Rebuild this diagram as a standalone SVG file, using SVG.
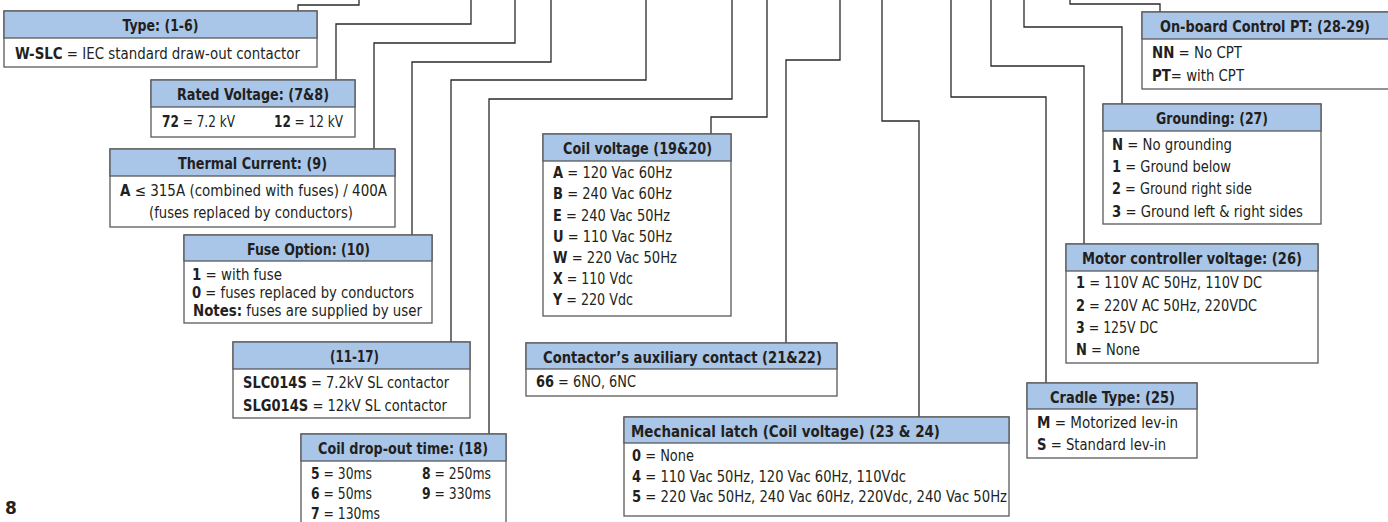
<svg xmlns="http://www.w3.org/2000/svg" width="1388" height="522" viewBox="0 0 1388 522">
<style>
.box{fill:#fff;stroke:#5a5a5a;stroke-width:1.3}
.hd{fill:#a9c6e8;stroke:#5a5a5a;stroke-width:1.3}
.ht{font-family:"DejaVu Sans Condensed","Liberation Sans",sans-serif;font-weight:bold;font-size:16.5px;fill:#231f20;text-anchor:middle}
.tx{font-family:"DejaVu Sans Condensed","Liberation Sans",sans-serif;font-size:15px;fill:#231f20}
.k{font-weight:bold}
.c{text-anchor:middle}
.ln{fill:none;stroke:#2a2a2a;stroke-width:1.3}
</style>
<rect x="0" y="0" width="1388" height="522" fill="#fff"/>
<g id="connectors">
<path class="ln" d="M298,11 V5 H359 V0"/>
<path class="ln" d="M336,80 V24 H471 V0"/>
<path class="ln" d="M374,149 V43 H515 V0"/>
<path class="ln" d="M412,235 V62 H551 V0"/>
<path class="ln" d="M451,342 V80 H646 V0"/>
<path class="ln" d="M489,434 V99 H732 V0"/>
<path class="ln" d="M711,134 V117 H767 V0"/>
<path class="ln" d="M786,343 V60 H840 V0"/>
<path class="ln" d="M919,417 V121 H882 V0"/>
<path class="ln" d="M1046,383 V97 H951 V0"/>
<path class="ln" d="M1084,244 V66 H991 V0"/>
<path class="ln" d="M1122,104 V27 H1024 V0"/>
<path class="ln" d="M1160,12 V4 H1070 V0"/>
</g>
<g id="type">
<rect class="box" x="4" y="11" width="313" height="56"/>
<rect class="hd" x="4" y="11" width="313" height="27"/>
<text class="ht" x="160.5" y="31" textLength="76" lengthAdjust="spacingAndGlyphs">Type: (1-6)</text>
<text class="tx" x="15" y="59" textLength="285" lengthAdjust="spacingAndGlyphs"><tspan class="k">W-SLC</tspan> = IEC standard draw-out contactor</text>
</g>
<g id="rated-voltage">
<rect class="box" x="151" y="80" width="204" height="57"/>
<rect class="hd" x="151" y="80" width="204" height="27"/>
<text class="ht" x="253" y="100" textLength="152" lengthAdjust="spacingAndGlyphs">Rated Voltage: (7&amp;8)</text>
<text class="tx" x="162" y="127" textLength="73" lengthAdjust="spacingAndGlyphs"><tspan class="k">72</tspan> = 7.2 kV</text>
<text class="tx" x="274" y="127" textLength="69" lengthAdjust="spacingAndGlyphs"><tspan class="k">12</tspan> = 12 kV</text>
</g>
<g id="thermal-current">
<rect class="box" x="110" y="149" width="285" height="78"/>
<rect class="hd" x="110" y="149" width="285" height="27"/>
<text class="ht" x="252.5" y="169" textLength="149" lengthAdjust="spacingAndGlyphs">Thermal Current: (9)</text>
<text class="tx c" x="253.5" y="196" textLength="267" lengthAdjust="spacingAndGlyphs"><tspan class="k">A</tspan> ≤ 315A (combined with fuses) / 400A</text>
<text class="tx c" x="251" y="218" textLength="204" lengthAdjust="spacingAndGlyphs">(fuses replaced by conductors)</text>
</g>
<g id="fuse-option">
<rect class="box" x="184" y="235" width="248" height="88"/>
<rect class="hd" x="184" y="235" width="248" height="26"/>
<text class="ht" x="308.5" y="255" textLength="123" lengthAdjust="spacingAndGlyphs">Fuse Option: (10)</text>
<text class="tx" x="192" y="280" textLength="90" lengthAdjust="spacingAndGlyphs"><tspan class="k">1</tspan> = with fuse</text>
<text class="tx" x="192" y="298" textLength="222" lengthAdjust="spacingAndGlyphs"><tspan class="k">0</tspan> = fuses replaced by conductors</text>
<text class="tx" x="193" y="316" textLength="229" lengthAdjust="spacingAndGlyphs"><tspan class="k">Notes:</tspan> fuses are supplied by user</text>
</g>
<g id="code-11-17">
<rect class="box" x="233" y="342" width="237" height="76"/>
<rect class="hd" x="233" y="342" width="237" height="27"/>
<text class="ht" x="354.5" y="362" textLength="49" lengthAdjust="spacingAndGlyphs">(11-17)</text>
<text class="tx" x="243" y="388" textLength="206" lengthAdjust="spacingAndGlyphs"><tspan class="k">SLC014S</tspan> = 7.2kV SL contactor</text>
<text class="tx" x="243" y="411" textLength="204" lengthAdjust="spacingAndGlyphs"><tspan class="k">SLG014S</tspan> = 12kV SL contactor</text>
</g>
<g id="coil-dropout">
<rect class="box" x="301" y="434" width="205" height="100"/>
<rect class="hd" x="301" y="434" width="205" height="27"/>
<text class="ht" x="403" y="454" textLength="170" lengthAdjust="spacingAndGlyphs">Coil drop-out time: (18)</text>
<text class="tx" x="311" y="479" textLength="61" lengthAdjust="spacingAndGlyphs"><tspan class="k">5</tspan> = 30ms</text>
<text class="tx" x="311" y="499" textLength="61" lengthAdjust="spacingAndGlyphs"><tspan class="k">6</tspan> = 50ms</text>
<text class="tx" x="311" y="519" textLength="69" lengthAdjust="spacingAndGlyphs"><tspan class="k">7</tspan> = 130ms</text>
<text class="tx" x="422" y="479" textLength="69" lengthAdjust="spacingAndGlyphs"><tspan class="k">8</tspan> = 250ms</text>
<text class="tx" x="422" y="499" textLength="69" lengthAdjust="spacingAndGlyphs"><tspan class="k">9</tspan> = 330ms</text>
</g>
<g id="coil-voltage">
<rect class="box" x="543" y="134" width="188" height="182"/>
<rect class="hd" x="543" y="134" width="188" height="27"/>
<text class="ht" x="637.5" y="154" textLength="149" lengthAdjust="spacingAndGlyphs">Coil voltage (19&amp;20)</text>
<text class="tx" x="553" y="178" textLength="119" lengthAdjust="spacingAndGlyphs"><tspan class="k">A</tspan> = 120 Vac 60Hz</text>
<text class="tx" x="553" y="199" textLength="119" lengthAdjust="spacingAndGlyphs"><tspan class="k">B</tspan> = 240 Vac 60Hz</text>
<text class="tx" x="553" y="221" textLength="117" lengthAdjust="spacingAndGlyphs"><tspan class="k">E</tspan> = 240 Vac 50Hz</text>
<text class="tx" x="553" y="242" textLength="119" lengthAdjust="spacingAndGlyphs"><tspan class="k">U</tspan> = 110 Vac 50Hz</text>
<text class="tx" x="553" y="263" textLength="124" lengthAdjust="spacingAndGlyphs"><tspan class="k">W</tspan> = 220 Vac 50Hz</text>
<text class="tx" x="553" y="284" textLength="80" lengthAdjust="spacingAndGlyphs"><tspan class="k">X</tspan> = 110 Vdc</text>
<text class="tx" x="553" y="305" textLength="80" lengthAdjust="spacingAndGlyphs"><tspan class="k">Y</tspan> = 220 Vdc</text>
</g>
<g id="aux-contact">
<rect class="box" x="526" y="343" width="311" height="53"/>
<rect class="hd" x="526" y="343" width="311" height="26"/>
<text class="ht" x="682.5" y="363" textLength="279" lengthAdjust="spacingAndGlyphs">Contactor’s auxiliary contact (21&amp;22)</text>
<text class="tx" x="536" y="387" textLength="100" lengthAdjust="spacingAndGlyphs"><tspan class="k">66</tspan> = 6NO, 6NC</text>
</g>
<g id="mech-latch">
<rect class="box" x="624" y="417" width="385" height="99"/>
<rect class="hd" x="624" y="417" width="385" height="26"/>
<text class="ht" x="631" y="437" style="text-anchor:start" textLength="309" lengthAdjust="spacingAndGlyphs">Mechanical latch (Coil voltage) (23 &amp; 24)</text>
<text class="tx" x="632" y="461" textLength="62" lengthAdjust="spacingAndGlyphs"><tspan class="k">0</tspan> = None</text>
<text class="tx" x="632" y="482" textLength="274" lengthAdjust="spacingAndGlyphs"><tspan class="k">4</tspan> = 110 Vac 50Hz, 120 Vac 60Hz, 110Vdc</text>
<text class="tx" x="632" y="502" textLength="375" lengthAdjust="spacingAndGlyphs"><tspan class="k">5</tspan> = 220 Vac 50Hz, 240 Vac 60Hz, 220Vdc, 240 Vac 50Hz</text>
</g>
<g id="cradle-type">
<rect class="box" x="1027" y="383" width="170" height="75"/>
<rect class="hd" x="1027" y="383" width="170" height="26"/>
<text class="ht" x="1112.5" y="403" textLength="125" lengthAdjust="spacingAndGlyphs">Cradle Type: (25)</text>
<text class="tx" x="1037" y="428" textLength="141" lengthAdjust="spacingAndGlyphs"><tspan class="k">M</tspan> = Motorized lev-in</text>
<text class="tx" x="1037" y="450" textLength="129" lengthAdjust="spacingAndGlyphs"><tspan class="k">S</tspan> = Standard lev-in</text>
</g>
<g id="motor-voltage">
<rect class="box" x="1066" y="244" width="252" height="119"/>
<rect class="hd" x="1066" y="244" width="252" height="27"/>
<text class="ht" x="1192" y="264" textLength="220" lengthAdjust="spacingAndGlyphs">Motor controller voltage: (26)</text>
<text class="tx" x="1076" y="288" textLength="186" lengthAdjust="spacingAndGlyphs"><tspan class="k">1</tspan> = 110V AC 50Hz, 110V DC</text>
<text class="tx" x="1076" y="311" textLength="181" lengthAdjust="spacingAndGlyphs"><tspan class="k">2</tspan> = 220V AC 50Hz, 220VDC</text>
<text class="tx" x="1076" y="333" textLength="82" lengthAdjust="spacingAndGlyphs"><tspan class="k">3</tspan> = 125V DC</text>
<text class="tx" x="1076" y="355" textLength="64" lengthAdjust="spacingAndGlyphs"><tspan class="k">N</tspan> = None</text>
</g>
<g id="grounding">
<rect class="box" x="1103" y="104" width="218" height="120"/>
<rect class="hd" x="1103" y="104" width="218" height="27"/>
<text class="ht" x="1212" y="124" textLength="112" lengthAdjust="spacingAndGlyphs">Grounding: (27)</text>
<text class="tx" x="1112" y="150" textLength="120" lengthAdjust="spacingAndGlyphs"><tspan class="k">N</tspan> = No grounding</text>
<text class="tx" x="1112" y="172" textLength="119" lengthAdjust="spacingAndGlyphs"><tspan class="k">1</tspan> = Ground below</text>
<text class="tx" x="1112" y="194" textLength="140" lengthAdjust="spacingAndGlyphs"><tspan class="k">2</tspan> = Ground right side</text>
<text class="tx" x="1112" y="217" textLength="191" lengthAdjust="spacingAndGlyphs"><tspan class="k">3</tspan> = Ground left &amp; right sides</text>
</g>
<g id="onboard-cpt">
<rect class="box" x="1142" y="12" width="260" height="77"/>
<rect class="hd" x="1142" y="12" width="260" height="27"/>
<text class="ht" x="1160" y="32" style="text-anchor:start;font-size:15px" textLength="210" lengthAdjust="spacingAndGlyphs">On-board Control PT: (28-29)</text>
<text class="tx" x="1152" y="58" textLength="90" lengthAdjust="spacingAndGlyphs"><tspan class="k">NN</tspan> = No CPT</text>
<text class="tx" x="1152" y="81" textLength="92" lengthAdjust="spacingAndGlyphs"><tspan class="k">PT</tspan>= with CPT</text>
</g>
<text x="5" y="514" style="font-family:'DejaVu Sans',sans-serif;font-weight:bold;font-size:17px;fill:#231f20">8</text>
</svg>
